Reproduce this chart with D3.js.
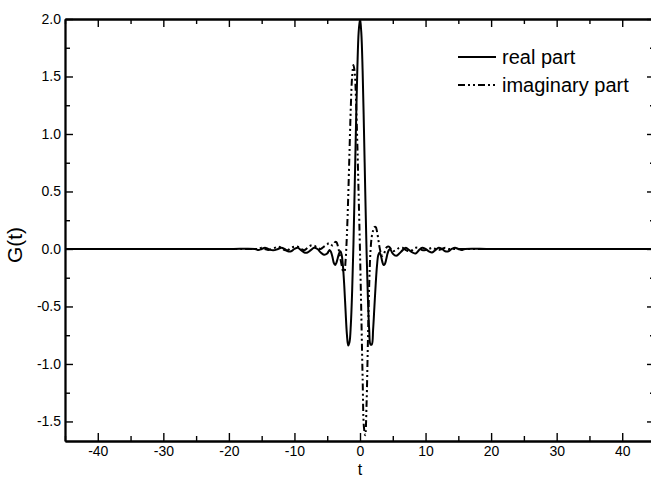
<!DOCTYPE html>
<html>
<head>
<meta charset="utf-8">
<script src="https://cdn.jsdelivr.net/npm/d3@7"></script>
<style>
  html, body { margin: 0; padding: 0; background: #fff; }
  svg { display: block; }
  text { font-family: "Liberation Sans", Arial, sans-serif; fill: #000; }
</style>
</head>
<body>
<svg id="chart" width="651" height="478"></svg>
<script>
// Sample times t
const tValues = [
  -45, -30, -20,
  -16, -15.5, -15, -14.5, -14, -13.5, -13, -12.5, -12, -11.5, -11, -10.5, -10,
  -9.5, -9, -8.5, -8, -7.5, -7, -6.5, -6, -5.5, -5,
  -4.8, -4.6, -4.4, -4.2, -4.0, -3.8, -3.6, -3.4, -3.2, -3.0,
  -2.8, -2.6, -2.4, -2.2, -2.0, -1.8, -1.6, -1.4, -1.2, -1.0,
  -0.8, -0.6, -0.4, -0.2, 0.0, 0.2, 0.4, 0.6, 0.8, 1.0,
  1.2, 1.4, 1.6, 1.8, 2.0, 2.2, 2.4, 2.6, 2.8, 3.0,
  3.2, 3.4, 3.6, 3.8, 4.0, 4.2, 4.4, 4.6, 4.8,
  5, 5.5, 6, 6.5, 7, 7.5, 8, 8.5, 9, 9.5, 10,
  10.5, 11, 11.5, 12, 12.5, 13, 13.5, 14, 14.5, 15, 15.5, 16,
  20, 30, 45
];

// Real part of G(t)
const realPart = [
  0, 0, 0,
  0.00, -0.01, 0.00, 0.01, 0.00, -0.01, -0.01, 0.00, 0.01, 0.00, -0.02, -0.02, 0.00,
  0.01, -0.01, -0.03, -0.03, -0.01, 0.01, 0.00, -0.03, -0.05, -0.04,
  -0.02, -0.01, -0.03, -0.07, -0.12, -0.14, -0.12, -0.08, -0.04, -0.02,
  -0.05, -0.15, -0.32, -0.54, -0.74, -0.84, -0.81, -0.66, -0.37, 0.04,
  0.56, 1.10, 1.58, 1.89, 2.00, 1.88, 1.55, 1.05, 0.50, -0.02,
  -0.42, -0.70, -0.83, -0.83, -0.70, -0.50, -0.30, -0.14, -0.05, -0.03,
  -0.06, -0.11, -0.14, -0.13, -0.09, -0.04, -0.01, 0.00, -0.02,
  -0.04, -0.06, -0.04, -0.01, 0.01, -0.01, -0.03, -0.04, -0.01, 0.01, 0.00,
  -0.02, -0.03, -0.01, 0.01, 0.00, -0.02, -0.02, 0.00, 0.01, 0.00, -0.01, 0.00,
  0, 0, 0
];

// Imaginary part of G(t)
const imagPart = [
  0, 0, 0,
  0.00, 0.00, 0.01, 0.00, -0.01, 0.00, 0.01, 0.02, 0.01, -0.01, -0.01, 0.01, 0.02,
  0.02, 0.00, -0.01, 0.01, 0.03, 0.03, 0.01, 0.00, 0.02, 0.04,
  0.05, 0.05, 0.04, 0.03, 0.04, 0.06, 0.06, 0.03, -0.02, -0.08,
  -0.14, -0.19, -0.20, -0.10, 0.12, 0.45, 0.85, 1.24, 1.50, 1.60,
  1.53, 1.28, 0.90, 0.45, -0.02, -0.56, -1.12, -1.55, -1.62, -1.35,
  -0.82, -0.32, -0.02, 0.11, 0.16, 0.19, 0.19, 0.15, 0.08, 0.01,
  -0.04, -0.06, -0.05, -0.02, 0.01, 0.02, 0.02, 0.01, -0.01,
  -0.02, -0.01, 0.01, 0.01, -0.01, -0.02, -0.01, 0.01, 0.01, -0.01, -0.01,
  0.00, 0.01, 0.00, -0.01, 0.00, 0.01, 0.00, 0.00, 0.00, 0.00, 0.00, 0.00,
  0, 0, 0
];

const xMajorTicks = [-40, -30, -20, -10, 0, 10, 20, 30, 40];
const xMinorTicks = [-45, -35, -25, -15, -5, 5, 15, 25, 35, 45];
const yMajorTicks = [-1.5, -1.0, -0.5, 0.0, 0.5, 1.0, 1.5, 2.0];
const yMinorTicks = [-1.25, -0.75, -0.25, 0.25, 0.75, 1.25, 1.75];
const seriesNames = ["real part", "imaginary part"];

const svg = d3.select("#chart");
const plotLeft = 65, plotRight = 655, plotTop = 19, plotBottom = 441;

const x = d3.scaleLinear().domain([-45, 45]).range([plotLeft, plotRight]);
const y = d3.scaleLinear().domain([-1.67, 2.0]).range([plotBottom, plotTop]);

svg.append("defs").append("clipPath").attr("id", "plotClip")
  .append("rect").attr("x", plotLeft).attr("y", plotTop)
  .attr("width", plotRight - plotLeft).attr("height", plotBottom - plotTop);

// curves
const realData = tValues.map((t, i) => [t, realPart[i]]);
const imagData = tValues.map((t, i) => [t, imagPart[i]]);
const line = d3.line()
  .x(d => x(d[0])).y(d => y(d[1]))
  .curve(d3.curveCatmullRom.alpha(0.5));

const plot = svg.append("g").attr("clip-path", "url(#plotClip)");
plot.append("path").datum(imagData)
  .attr("d", line).attr("fill", "none").attr("stroke", "#000")
  .attr("stroke-width", 2).attr("stroke-dasharray", "7,3,2,3,2,3");
plot.append("path").datum(realData)
  .attr("d", line).attr("fill", "none").attr("stroke", "#000")
  .attr("stroke-width", 2);

// axes: ticks point inward on all four sides
function styleAxis(g) {
  g.selectAll("path.domain").attr("stroke", "#000").attr("stroke-width", 1.8);
  g.selectAll(".tick line").attr("stroke", "#000").attr("stroke-width", 1.4);
  g.selectAll("text").attr("font-size", 14).attr("fill", "#000")
    .attr("font-family", "Liberation Sans, Arial, sans-serif");
}

svg.append("g").attr("transform", `translate(0,${plotBottom})`)
  .call(d3.axisBottom(x).tickValues(xMinorTicks).tickSize(-5).tickSizeOuter(0).tickFormat(""))
  .call(styleAxis);
svg.append("g").attr("transform", `translate(0,${plotBottom})`)
  .call(d3.axisBottom(x).tickValues(xMajorTicks).tickSize(-8).tickSizeOuter(0)
    .tickPadding(5).tickFormat(d => String(d)))
  .call(styleAxis);

svg.append("g").attr("transform", `translate(0,${plotTop})`)
  .call(d3.axisTop(x).tickValues(xMinorTicks).tickSize(-5).tickSizeOuter(0).tickFormat(""))
  .call(styleAxis);
svg.append("g").attr("transform", `translate(0,${plotTop})`)
  .call(d3.axisTop(x).tickValues(xMajorTicks).tickSize(-8).tickSizeOuter(0).tickFormat(""))
  .call(styleAxis);

svg.append("g").attr("transform", `translate(${plotLeft},0)`)
  .call(d3.axisLeft(y).tickValues(yMinorTicks).tickSize(-5).tickSizeOuter(0).tickFormat(""))
  .call(styleAxis);
svg.append("g").attr("transform", `translate(${plotLeft},0)`)
  .call(d3.axisLeft(y).tickValues(yMajorTicks).tickSize(-8).tickSizeOuter(0)
    .tickPadding(4).tickFormat(d => d.toFixed(1)))
  .call(styleAxis);

svg.append("g").attr("transform", `translate(${plotRight},0)`)
  .call(d3.axisRight(y).tickValues(yMinorTicks).tickSize(-5).tickSizeOuter(0).tickFormat(""))
  .call(styleAxis);
svg.append("g").attr("transform", `translate(${plotRight},0)`)
  .call(d3.axisRight(y).tickValues(yMajorTicks).tickSize(-8).tickSizeOuter(0).tickFormat(""))
  .call(styleAxis);

// axis titles
svg.append("text").attr("x", 360).attr("y", 474.5)
  .attr("text-anchor", "middle").attr("font-size", 16).text("t");
svg.append("text").attr("transform", "translate(22,245) rotate(-90)")
  .attr("text-anchor", "middle").attr("font-size", 21).text("G(t)");

// legend
const legend = svg.append("g");
const legendRows = [
  { name: seriesNames[0], dash: null, y: 57 },
  { name: seriesNames[1], dash: "7,3,2,3,2,3", y: 85 }
];
legendRows.forEach(r => {
  legend.append("line").attr("x1", 458).attr("x2", 496)
    .attr("y1", r.y).attr("y2", r.y)
    .attr("stroke", "#000").attr("stroke-width", 2)
    .attr("stroke-dasharray", r.dash);
  legend.append("text").attr("x", 502).attr("y", r.y + 7)
    .attr("font-size", 20).text(r.name);
});
</script>
</body>
</html>
